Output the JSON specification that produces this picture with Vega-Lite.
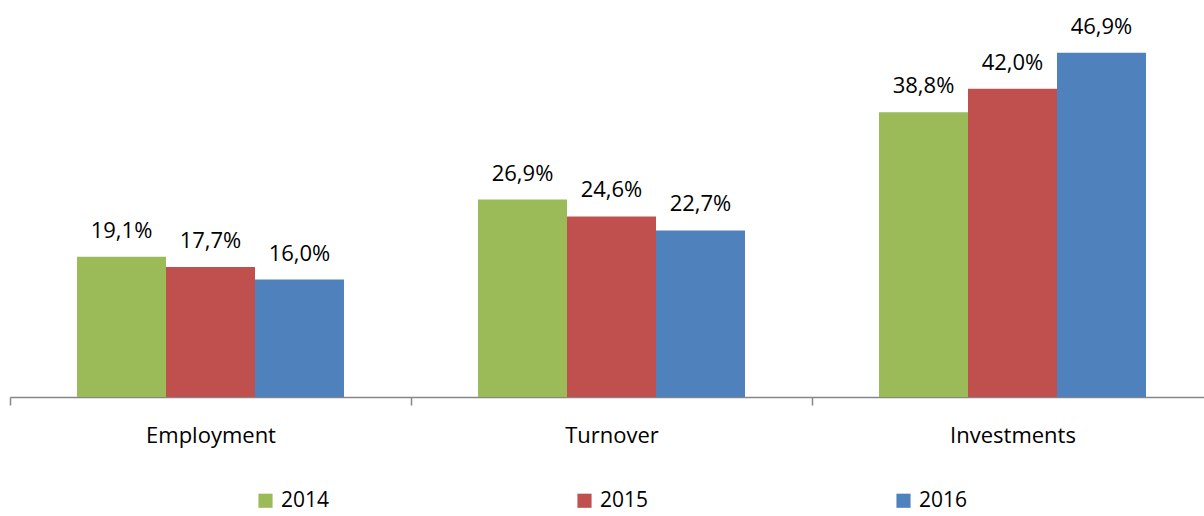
{
  "$schema": "https://vega.github.io/schema/vega-lite/v6.json",
  "width": 1203,
  "height": 367,
  "autosize": "none",
  "padding": {"left": 10, "top": 30, "right": 0, "bottom": 119},
  "config": {
    "view": {"stroke": null},
    "font": "Open Sans",
    "locale": {"number": {"decimal": ",", "thousands": ".", "grouping": [3], "currency": ["", "€"]}}
  },
  "data": {
    "values": [
      {"category": "Employment", "year": "2014", "value": 0.191},
      {"category": "Employment", "year": "2015", "value": 0.177},
      {"category": "Employment", "year": "2016", "value": 0.160},
      {"category": "Turnover", "year": "2014", "value": 0.269},
      {"category": "Turnover", "year": "2015", "value": 0.246},
      {"category": "Turnover", "year": "2016", "value": 0.227},
      {"category": "Investments", "year": "2014", "value": 0.388},
      {"category": "Investments", "year": "2015", "value": 0.420},
      {"category": "Investments", "year": "2016", "value": 0.469}
    ]
  },
  "encoding": {
    "x": {
      "field": "category", "type": "nominal", "sort": null,
      "scale": {"paddingInner": 0, "paddingOuter": 0},
      "axis": {
        "title": null, "labelAngle": 0, "labelFontSize": 22, "labelColor": "#000000",
        "labelPadding": 20, "tickBand": "extent", "tickSize": 8,
        "domainColor": "#868686", "tickColor": "#868686", "domainWidth": 1.5, "tickWidth": 1.5,
        "grid": false
      }
    },
    "xOffset": {"field": "year", "type": "nominal", "scale": {"paddingInner": 0, "paddingOuter": 0.753}},
    "y": {
      "field": "value", "type": "quantitative",
      "scale": {"domain": [0, 0.5]},
      "axis": null
    }
  },
  "layer": [
    {
      "mark": {"type": "bar"},
      "encoding": {
        "color": {
          "field": "year", "type": "nominal",
          "scale": {"domain": ["2014", "2015", "2016"], "range": ["#9BBB59", "#C0504D", "#4F81BD"]},
          "legend": {
            "title": null, "orient": "none", "direction": "horizontal",
            "legendX": 245, "legendY": 460,
            "symbolType": "square", "symbolSize": 200, "symbolStrokeWidth": 0,
            "labelFontSize": 21, "labelColor": "#000000", "labelOffset": 5,
            "columnPadding": 244
          }
        }
      }
    },
    {
      "mark": {"type": "text", "fontSize": 22, "color": "#000000", "baseline": "alphabetic", "dy": -19},
      "encoding": {
        "text": {"field": "value", "type": "quantitative", "format": ".1%"}
      }
    }
  ]
}
